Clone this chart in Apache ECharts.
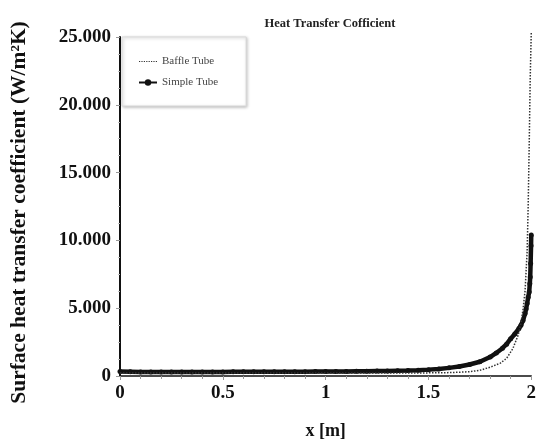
<!DOCTYPE html>
<html>
<head>
<meta charset="utf-8">
<script src="https://cdn.jsdelivr.net/npm/echarts@6/dist/echarts.min.js"></script>
<style>html,body{margin:0;padding:0;background:#fff}#c{width:539px;height:445px}</style>
</head>
<body>
<div id="c"></div>
<script>
const titleText = 'Heat Transfer Cofficient';
const xAxisName = 'x [m]';
const yAxisName = 'Surface heat transfer coefficient (W/m\u00B2K)';
const xTicks = [0, 0.5, 1, 1.5, 2];
const yTicks = [0, 5000, 10000, 15000, 20000, 25000];
const yTickLabels = ['0', '5.000', '10.000', '15.000', '20.000', '25.000'];

const simpleX = [0,0.05,0.1,0.15,0.2,0.25,0.3,0.35,0.4,0.45,0.5,0.55,0.6,0.65,0.7,0.75,0.8,0.85,0.9,0.95,1.0,1.05,1.1,1.15,1.2,1.25,1.3,1.35,1.4,1.45,1.5,1.55,1.6,1.65,1.7,1.75,1.8,1.83,1.86,1.88,1.9,1.92,1.94,1.95,1.96,1.97,1.975,1.98,1.985,1.99,1.993,1.995,1.997,1.999,2.0];
const simpleY = [330,320,300,300,300,300,300,300,300,300,300,305,305,310,310,315,315,320,320,325,330,335,340,345,350,360,370,385,400,430,470,520,600,700,850,1050,1400,1700,2050,2350,2750,3100,3500,3750,4100,4600,4950,5350,5800,6200,6800,7300,8300,9600,10400];

const baffleX = [0,0.25,0.5,0.75,1.0,1.25,1.5,1.6,1.65,1.7,1.75,1.8,1.85,1.88,1.91,1.936,1.95,1.96,1.97,1.98,1.985,1.99,1.995,2.0];
const baffleY = [230,220,215,215,215,220,230,250,280,320,420,650,950,1300,2000,3000,3900,4900,6300,9200,12500,17000,22000,25300];

const chart = echarts.init(document.getElementById('c'), null, {renderer: 'canvas'});
const serif = '"Liberation Serif", "Times New Roman", serif';
chart.setOption({
  animation: false,
  backgroundColor: '#fff',
  title: {
    text: titleText, left: 325, top: 12, textAlign: 'center',
    textStyle: {fontFamily: serif, fontSize: 12.5, fontWeight: 'bold', color: '#222'}
  },
  legend: {
    orient: 'vertical', left: 122, top: 37,
    padding: [19, 28, 18, 16],
    itemGap: 10, itemWidth: 18, itemHeight: 8,
    borderColor: '#d8d8d8', borderWidth: 1,
    shadowColor: 'rgba(0,0,0,0.25)', shadowBlur: 3, shadowOffsetX: 1, shadowOffsetY: 1,
    backgroundColor: '#fff',
    textStyle: {fontFamily: serif, fontSize: 11, color: '#444'},
    data: [
      {name: 'Baffle Tube', itemStyle: {opacity: 0}, lineStyle: {type: 'dotted', width: 1.2, color: '#333'}},
      {name: 'Simple Tube', lineStyle: {width: 2}}
    ]
  },
  grid: {left: 120, right: 4, top: 37, bottom: 64, containLabel: false},
  xAxis: {
    type: 'value', min: 0, max: 2, interval: 0.5,
    name: xAxisName, nameLocation: 'middle', nameGap: 46,
    nameTextStyle: {fontFamily: serif, fontSize: 18, fontWeight: 'bold', color: '#111'},
    axisLine: {lineStyle: {color: '#111', width: 1.5}},
    axisTick: {show: true, length: 4, lineStyle: {color: '#999'}},
    minorTick: {show: true, splitNumber: 5, length: 3, lineStyle: {color: '#999'}},
    splitLine: {show: false},
    axisLabel: {
      margin: 8, fontFamily: serif, fontSize: 19, fontWeight: 'bold', color: '#111',
      formatter: v => { const i = xTicks.indexOf(v); return i >= 0 ? String(xTicks[i]) : ''; }
    }
  },
  yAxis: {
    type: 'value', min: 0, max: 25000, interval: 5000, offset: 6,
    name: yAxisName, nameLocation: 'middle', nameGap: 84,
    nameTextStyle: {fontFamily: serif, fontSize: 21.5, fontWeight: 'bold', color: '#111', padding: [0, 12, 0, 0]},
    axisLine: {show: true, lineStyle: {color: '#111', width: 2}},
    axisTick: {show: true, length: 4, lineStyle: {color: '#999'}},
    minorTick: {show: true, splitNumber: 4, length: 2, lineStyle: {color: '#bbb'}},
    splitLine: {show: false},
    axisLabel: {
      margin: 3, fontFamily: serif, fontSize: 19, fontWeight: 'bold', color: '#111',
      formatter: v => { const i = yTicks.indexOf(v); return i >= 0 ? yTickLabels[i] : ''; }
    }
  },
  series: [
    {
      name: 'Baffle Tube', type: 'line', clip: false,
      data: baffleX.map((x, i) => [x, baffleY[i]]),
      showSymbol: false, symbol: 'none',
      lineStyle: {color: '#333', width: 1.5, type: 'dotted'},
      itemStyle: {color: '#333'},
      z: 3
    },
    {
      name: 'Simple Tube', type: 'line',
      data: simpleX.map((x, i) => [x, simpleY[i]]),
      symbol: 'circle', symbolSize: 5, showSymbol: true,
      lineStyle: {color: '#111', width: 4.5},
      itemStyle: {color: '#111'},
      z: 2
    }
  ]
});
</script>
</body>
</html>
